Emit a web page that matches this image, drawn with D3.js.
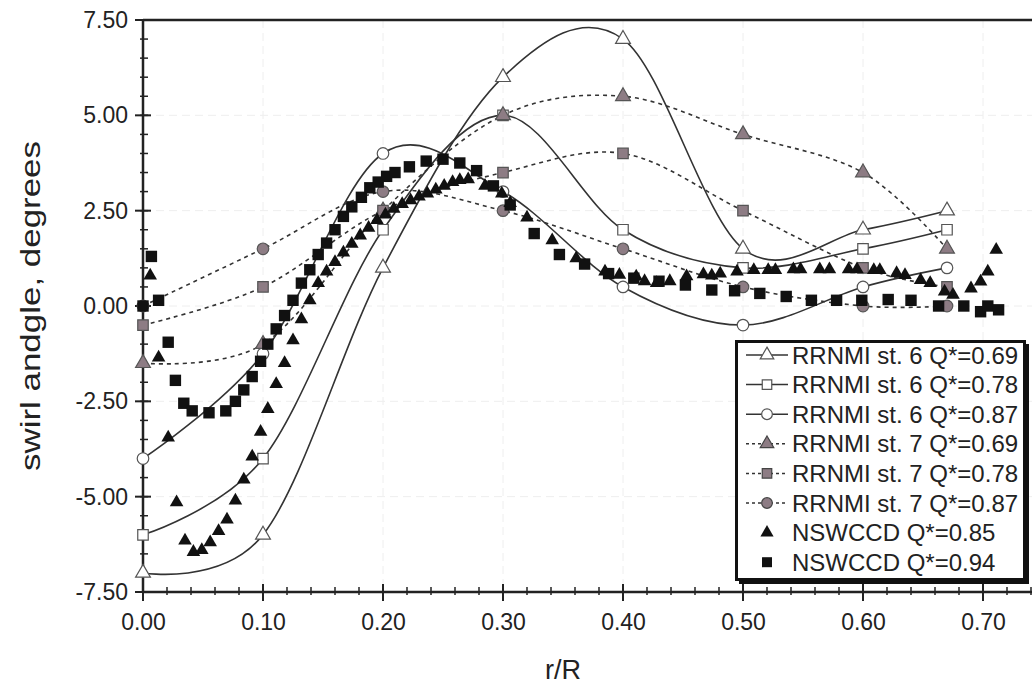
<!DOCTYPE html>
<html><head><meta charset="utf-8">
<script src="https://cdn.jsdelivr.net/npm/d3@7"></script>
<style>
html,body{margin:0;padding:0;background:#fff;}
svg{display:block;font-family:"Liberation Sans",Arial,sans-serif;}
</style></head>
<body><svg id="chart" width="1032" height="691"></svg>
<script>
// ---------- data ----------
const rrX = [0, 0.1, 0.2, 0.3, 0.4, 0.5, 0.6, 0.67];
const st6_069 = [-7.0, -6.0, 1.0, 6.0, 7.0, 1.5, 2.0, 2.5];
const st6_078 = [-6.0, -4.0, 2.0, 5.0, 2.0, 1.0, 1.5, 2.0];
const st6_087 = [-4.0, -1.25, 4.0, 3.0, 0.5, -0.5, 0.5, 1.0];
const st7_069 = [-1.5, -1.0, 2.5, 5.0, 5.5, 4.5, 3.5, 1.5];
const st7_078 = [-0.5, 0.5, 2.5, 3.5, 4.0, 2.5, 1.0, 0.5];
const st7_087 = [0.0, 1.5, 3.0, 2.5, 1.5, 0.5, 0.0, 0.0];

const nswccd085 = [[0.006,0.8],[0.013,-1.35],[0.021,-3.45],[0.028,-5.15],[0.035,-6.15],[0.042,-6.45],[0.049,-6.4],[0.056,-6.2],[0.063,-5.9],[0.070,-5.6],[0.077,-5.1],[0.084,-4.55],[0.091,-3.95],[0.098,-3.3],[0.104,-2.7],[0.111,-2.05],[0.118,-1.5],[0.125,-0.9],[0.132,-0.35],[0.139,0.15],[0.146,0.6],[0.153,0.9],[0.160,1.15],[0.167,1.4],[0.174,1.63],[0.181,1.85],[0.188,2.05],[0.195,2.25],[0.202,2.4],[0.209,2.55],[0.216,2.67],[0.223,2.77],[0.230,2.87],[0.237,2.95],[0.244,3.05],[0.251,3.15],[0.258,3.25],[0.264,3.3],[0.271,3.32],[0.285,3.15],[0.299,2.95],[0.306,2.7],[0.320,2.32],[0.341,1.72],[0.361,1.25],[0.385,0.9],[0.397,0.82],[0.411,0.77],[0.418,0.65],[0.428,0.6],[0.439,0.65],[0.453,0.78],[0.467,0.83],[0.474,0.8],[0.481,0.85],[0.495,0.9],[0.509,0.94],[0.521,0.94],[0.527,0.94],[0.542,0.96],[0.548,0.96],[0.564,0.96],[0.572,0.96],[0.588,0.96],[0.595,0.96],[0.609,0.94],[0.614,0.94],[0.628,0.86],[0.635,0.81],[0.648,0.68],[0.656,0.6],[0.668,0.38],[0.675,0.29],[0.690,0.46],[0.698,0.64],[0.704,0.9],[0.711,1.47]];
const nswccd094 = [[0.0,0.0],[0.007,1.3],[0.013,0.15],[0.021,-0.95],[0.027,-1.95],[0.034,-2.55],[0.041,-2.75],[0.055,-2.8],[0.069,-2.75],[0.077,-2.5],[0.084,-2.2],[0.091,-1.85],[0.098,-1.45],[0.104,-1.0],[0.111,-0.6],[0.118,-0.25],[0.125,0.15],[0.132,0.6],[0.139,0.95],[0.146,1.35],[0.153,1.65],[0.160,2.0],[0.167,2.35],[0.174,2.6],[0.182,2.85],[0.189,3.1],[0.196,3.25],[0.203,3.4],[0.210,3.5],[0.222,3.65],[0.236,3.8],[0.250,3.85],[0.264,3.75],[0.278,3.55],[0.292,3.15],[0.306,2.65],[0.326,1.9],[0.347,1.35],[0.368,1.1],[0.388,0.85],[0.409,0.73],[0.430,0.65],[0.452,0.55],[0.474,0.42],[0.493,0.4],[0.514,0.33],[0.536,0.25],[0.557,0.15],[0.578,0.15],[0.599,0.15],[0.621,0.17],[0.640,0.15],[0.663,0.0],[0.684,0.0],[0.698,-0.15],[0.704,0.0],[0.713,-0.1]];

const xTicks = [0, 0.1, 0.2, 0.3, 0.4, 0.5, 0.6, 0.7];
const yTicks = [-7.5, -5, -2.5, 0, 2.5, 5, 7.5];
const legendLabels = ["RRNMI st. 6 Q*=0.69","RRNMI st. 6 Q*=0.78","RRNMI st. 6 Q*=0.87","RRNMI st. 7 Q*=0.69","RRNMI st. 7 Q*=0.78","RRNMI st. 7 Q*=0.87","NSWCCD Q*=0.85","NSWCCD Q*=0.94"];

// ---------- setup ----------
const svg = d3.select("#chart");
const L = 143, T = 20, B = 592;
const x = d3.scaleLinear().domain([0, 0.75]).range([L, L + 900]);
const y = d3.scaleLinear().domain([-7.5, 7.5]).range([B, T]);
const RIGHT = 1032;
const ink = "#222";

// grid
const grid = svg.append("g").attr("stroke", "#eeeeee").attr("stroke-width", 1).attr("stroke-dasharray", "8,5");
xTicks.filter(d => d > 0).forEach(d => grid.append("line").attr("x1", x(d)).attr("x2", x(d)).attr("y1", T).attr("y2", B));
yTicks.filter(d => d > -7.5 && d < 7.5).forEach(d => grid.append("line").attr("x1", L).attr("x2", RIGHT).attr("y1", y(d)).attr("y2", y(d)));

// frame
svg.append("line").attr("x1", L).attr("x2", RIGHT).attr("y1", T).attr("y2", T).attr("stroke", ink).attr("stroke-width", 2.5);

// x axis
const xMinor = d3.range(0, 0.7401, 0.02);
const xAxisG = svg.append("g").attr("transform", `translate(0,${B})`)
  .call(d3.axisBottom(x).tickValues(xTicks).tickSize(0).tickPadding(22).tickFormat(d => d.toFixed(2)));
xAxisG.select(".domain").remove();
xAxisG.selectAll("text").attr("font-size", 23).attr("fill", ink).attr("font-family", "Liberation Sans, Arial, sans-serif");
const xt = svg.append("g").attr("stroke", ink);
xt.append("line").attr("x1", L).attr("x2", RIGHT).attr("y1", B).attr("y2", B).attr("stroke-width", 2.5);
xMinor.forEach(d => xt.append("line").attr("x1", x(d)).attr("x2", x(d)).attr("y1", B - 5).attr("y2", B + 3).attr("stroke-width", 1.5));
xTicks.forEach(d => xt.append("line").attr("x1", x(d)).attr("x2", x(d)).attr("y1", B - 8).attr("y2", B + 9).attr("stroke-width", 2));

// y axis
const yMinor = d3.range(-7.5, 7.501, 0.5);
const yAxisG = svg.append("g").attr("transform", `translate(${L},0)`)
  .call(d3.axisLeft(y).tickValues(yTicks).tickSize(0).tickPadding(15).tickFormat(d => d.toFixed(2)));
yAxisG.select(".domain").remove();
yAxisG.selectAll("text").attr("font-size", 23).attr("fill", ink).attr("font-family", "Liberation Sans, Arial, sans-serif");
const yt = svg.append("g").attr("stroke", ink);
yt.append("line").attr("x1", L).attr("x2", L).attr("y1", T).attr("y2", B).attr("stroke-width", 2.5);
yMinor.forEach(d => yt.append("line").attr("x1", L - 3).attr("x2", L + 5).attr("y1", y(d)).attr("y2", y(d)).attr("stroke-width", 1.5));
yTicks.forEach(d => yt.append("line").attr("x1", L - 8).attr("x2", L + 8).attr("y1", y(d)).attr("y2", y(d)).attr("stroke-width", 2));

// titles
svg.append("text").attr("x", 563).attr("y", 679).attr("text-anchor", "middle").attr("font-size", 27).attr("fill", ink).text("r/R");
svg.append("text").attr("transform", "translate(40,306) rotate(-90)").attr("text-anchor", "middle")
  .attr("font-size", 28).attr("textLength", 330).attr("lengthAdjust", "spacingAndGlyphs").attr("fill", ink).text("swirl andgle, degrees");

// ---------- series ----------
const line = d3.line().x(d => x(d[0])).y(d => y(d[1])).curve(d3.curveCardinal.tension(0));
const grayFill = "#8d7c84";
const series = [
  {vals: st6_069, sym: d3.symbolTriangle, size: 95, fill: "#fff", dash: null},
  {vals: st6_078, sym: d3.symbolSquare, size: 110, fill: "#fff", dash: null},
  {vals: st6_087, sym: d3.symbolCircle, size: 105, fill: "#fff", dash: null},
  {vals: st7_069, sym: d3.symbolTriangle, size: 95, fill: grayFill, dash: "4,4"},
  {vals: st7_078, sym: d3.symbolSquare, size: 110, fill: grayFill, dash: "4,4"},
  {vals: st7_087, sym: d3.symbolCircle, size: 105, fill: grayFill, dash: "4,4"}
];
series.forEach(s => {
  const pts = rrX.map((xv, i) => [xv, s.vals[i]]);
  svg.append("path").datum(pts).attr("d", line).attr("fill", "none")
    .attr("stroke", "#333").attr("stroke-width", 1.6).attr("stroke-dasharray", s.dash);
});
series.forEach(s => {
  const pts = rrX.map((xv, i) => [xv, s.vals[i]]);
  svg.append("g").selectAll("path").data(pts).join("path")
    .attr("transform", d => `translate(${x(d[0])},${y(d[1])})`)
    .attr("d", d3.symbol().type(s.sym).size(s.size))
    .attr("fill", s.fill).attr("stroke", "#555").attr("stroke-width", 1.2);
});
svg.append("g").selectAll("path").data(nswccd085).join("path")
  .attr("transform", d => `translate(${x(d[0])},${y(d[1])})`)
  .attr("d", d3.symbol().type(d3.symbolTriangle).size(80)).attr("fill", "#111");
svg.append("g").selectAll("path").data(nswccd094).join("path")
  .attr("transform", d => `translate(${x(d[0])},${y(d[1])})`)
  .attr("d", d3.symbol().type(d3.symbolSquare).size(130)).attr("fill", "#111");

// ---------- legend ----------
const lg = svg.append("g");
lg.append("rect").attr("x", 739).attr("y", 344).attr("width", 290).attr("height", 240).attr("fill", "#111");
lg.append("rect").attr("x", 736.5).attr("y", 341.5).attr("width", 288).attr("height", 238).attr("fill", "#fff").attr("stroke", "#111").attr("stroke-width", 3);
const legendSyms = [
  {sym: d3.symbolTriangle, size: 80, fill: "#fff", stroke: "#555", dash: null, line: true},
  {sym: d3.symbolSquare, size: 90, fill: "#fff", stroke: "#555", dash: null, line: true},
  {sym: d3.symbolCircle, size: 90, fill: "#fff", stroke: "#555", dash: null, line: true},
  {sym: d3.symbolTriangle, size: 80, fill: grayFill, stroke: "#444", dash: "3,3", line: true},
  {sym: d3.symbolSquare, size: 90, fill: grayFill, stroke: "#444", dash: "3,3", line: true},
  {sym: d3.symbolCircle, size: 90, fill: grayFill, stroke: "#444", dash: "3,3", line: true},
  {sym: d3.symbolTriangle, size: 75, fill: "#111", stroke: "none", dash: null, line: false},
  {sym: d3.symbolSquare, size: 100, fill: "#111", stroke: "none", dash: null, line: false}
];
legendLabels.forEach((lab, i) => {
  const cy = 355 + i * 29.6;
  const s = legendSyms[i];
  if (s.line) lg.append("line").attr("x1", 746).attr("x2", 788).attr("y1", cy).attr("y2", cy)
    .attr("stroke", "#333").attr("stroke-width", 1.5).attr("stroke-dasharray", s.dash);
  lg.append("path").attr("transform", `translate(767,${cy})`).attr("d", d3.symbol().type(s.sym).size(s.size))
    .attr("fill", s.fill).attr("stroke", s.stroke).attr("stroke-width", 1.2);
  lg.append("text").attr("x", 792).attr("y", cy).attr("dy", "0.36em").attr("font-size", 24).attr("fill", ink).text(lab);
});
</script></body></html>
